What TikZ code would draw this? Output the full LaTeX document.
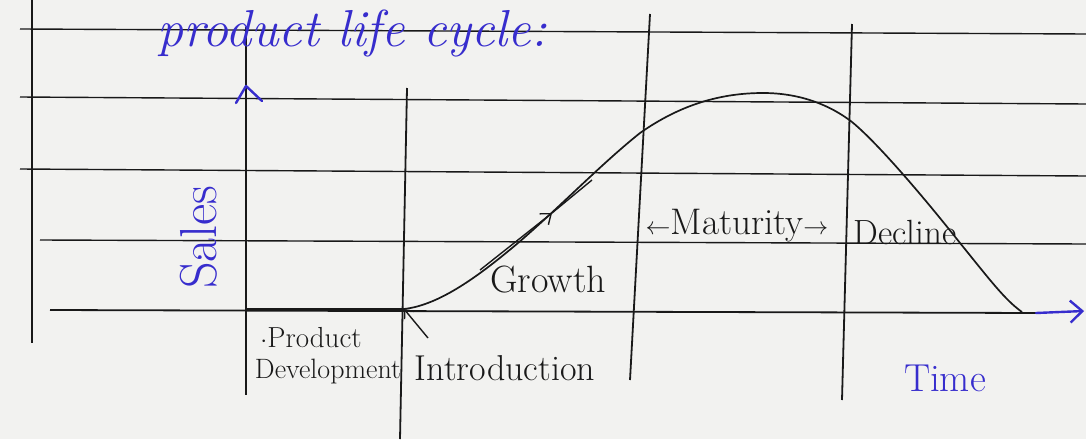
\documentclass[tikz,border=0pt]{standalone}
\usetikzlibrary{arrows.meta}
\definecolor{paper}{RGB}{242,242,240}
\definecolor{ink}{RGB}{25,25,25}
\definecolor{pen}{RGB}{55,45,205}
\tikzset{
  rule/.style={draw=ink, line width=1.4pt},
  margin/.style={draw=ink, line width=1.8pt},
  curveline/.style={draw=ink, line width=1.7pt},
  handtext/.style={text=ink, inner sep=0pt, font=\fontsize{36}{38}\selectfont},
  bluetext/.style={text=pen, inner sep=0pt},
  bluearrow/.style={draw=pen, line width=2.4pt, line cap=round, line join=round},
}
\begin{document}
\begin{tikzpicture}[x=1pt,y=-1pt]
\useasboundingbox (0,0) rectangle (1086,439);
\fill[paper] (0,0) rectangle (1086,439);
% ruled lines
\draw[rule] (20,29) -- (1086,34);
\draw[rule] (20,97) -- (1086,104);
\draw[rule] (20,169) -- (1086,176);
\draw[rule] (40,240) -- (1086,244);
% left margin
\draw[margin] (32,0) -- (32,343);
% vertical stage lines
\draw[margin] (246,27) -- (246,395);
\draw[margin] (407,88) -- (400,439);
\draw[margin] (650,14) -- (630,380);
\draw[margin] (852,24) -- (842,400);
% time axis
\coordinate (axl) at (50,310);
\coordinate (axm) at (1036,313);
\coordinate (axr) at (1084,311);
\draw[margin] (axl) -- (axm);
\draw[bluearrow, -{Straight Barb[length=12pt,width=22pt,line width=2.4pt]}] (axm) -- (axr);
% sales axis arrowhead
\coordinate (ytip) at (246,86);
\draw[bluearrow] (236,103) -- (ytip) -- (262,101);
% product development segment
\coordinate (pd) at (246,309);
\coordinate (st) at (404,309);
\draw[ink, line width=3pt] (pd) -- (st);
% life cycle curve
\coordinate (c1) at (518,243);
\coordinate (c2) at (640,133);
\coordinate (peak) at (763,93);
\coordinate (c3) at (852,122);
\coordinate (c4) at (960,243);
\coordinate (cend) at (1022,312);
\draw[curveline] (st) .. controls (440,305) and (480,275) .. (c1)
  .. controls (560,207) and (600,165) .. (c2)
  .. controls (680,105) and (720,93) .. (peak)
  .. controls (800,93) and (830,105) .. (c3)
  .. controls (880,145) and (930,205) .. (c4)
  .. controls (990,280) and (1005,300) .. (cend);
% growth arrow
\coordinate (g1) at (480,270);
\coordinate (g2) at (552,213);
\coordinate (g3) at (592,180);
\draw[ink, line width=1.4pt, -{Straight Barb[length=9pt,width=14pt]}] (g1) -- (g2);
\draw[ink, line width=1.4pt] (g2) -- (g3);
% labels
\node[bluetext, anchor=base, font=\fontsize{52}{56}\selectfont\itshape] (title) at (352,46) {product life cycle:};
\node[bluetext, rotate=90, font=\fontsize{52}{56}\selectfont] (sales) at (199,237) {Sales};
\node[bluetext, font=\fontsize{39}{42}\selectfont] (time) at (945,378) {Time};
\node[handtext, font=\fontsize{29}{31}\selectfont] (prod) at (311,338) {$\cdot$Product};
\node[handtext, font=\fontsize{28}{30}\selectfont] (dev) at (328,372) {Development};
\node[handtext] (intro) at (505,368) {Introduction};
\node[handtext, font=\fontsize{38}{40}\selectfont] (growth) at (548,280) {Growth};
\node[handtext, font=\fontsize{37}{39}\selectfont] (mat) at (737,226) {$\leftarrow$Maturity$\rightarrow$};
\node[handtext, font=\fontsize{35}{37}\selectfont] (dec) at (905,232) {Decline};
% pointer from Introduction to start of curve
\coordinate (ip) at (428,338);
\draw[ink, line width=1.4pt, -{Straight Barb[length=7pt,width=12pt]}] (ip) -- (st);
\end{tikzpicture}
\end{document}
